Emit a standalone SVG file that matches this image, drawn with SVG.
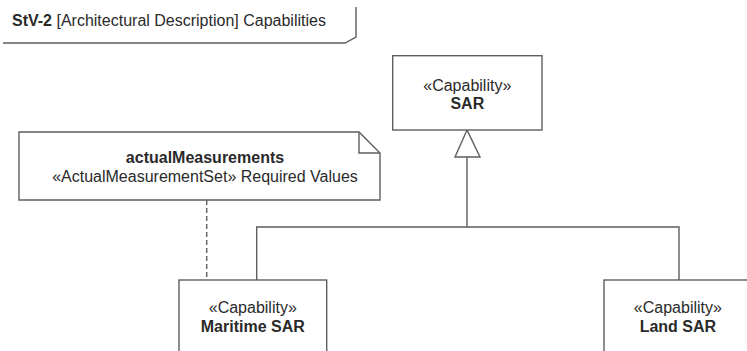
<svg xmlns="http://www.w3.org/2000/svg" width="747" height="351" viewBox="0 0 747 351">
<style>
  text { font-family: "Liberation Sans", Arial, sans-serif; font-size: 16px; fill: #2a2a2a; }
  .b { font-weight: bold; }
  .c { text-anchor: middle; }
  .box { fill: #ffffff; stroke: #5e5e5e; stroke-width: 1.4; }
  .ln { fill: none; stroke: #5e5e5e; stroke-width: 1.4; }
</style>
<rect width="747" height="351" fill="#ffffff"/>
<g id="frame">
  <path class="ln" d="M3,43 H345 L356,37 V7"/>
  <text x="12" y="26"><tspan class="b">StV-2</tspan> [Architectural Description] Capabilities</text>
</g>
<g id="connectors">
  <path class="ln" d="M467,157 V227 M256.7,280 V227 H679 V280"/>
  <polygon class="ln" points="467,130 455,157 480,157" fill="#ffffff"/>
  <line class="ln" x1="206.7" y1="200" x2="206.7" y2="280" stroke-dasharray="5,3"/>
</g>
<g id="sar">
  <rect class="box" x="392.7" y="55.7" width="149.3" height="74.3"/>
  <text class="c" x="467.3" y="90.7">«Capability»</text>
  <text class="c b" x="467.3" y="109.3">SAR</text>
</g>
<g id="note">
  <path class="box" d="M19,132 H359 L380,153 V200 H19 Z"/>
  <path class="ln" d="M359,132 V153 H380"/>
  <text class="c b" x="205" y="162.7">actualMeasurements</text>
  <text class="c" x="205" y="181.7">«ActualMeasurementSet» Required Values</text>
</g>
<g id="maritime">
  <rect class="box" x="179" y="280" width="147.7" height="80"/>
  <text class="c" x="252.8" y="313">«Capability»</text>
  <text class="c b" x="252.8" y="332">Maritime SAR</text>
</g>
<g id="land">
  <rect class="box" x="604" y="280" width="147.7" height="80"/>
  <text class="c" x="677.9" y="313">«Capability»</text>
  <text class="c b" x="677.9" y="332">Land SAR</text>
</g>
</svg>
